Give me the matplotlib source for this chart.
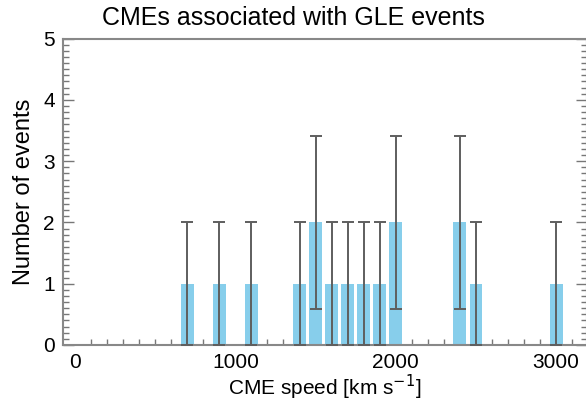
import matplotlib
matplotlib.use("Agg")
import matplotlib.pyplot as plt
from matplotlib.ticker import MultipleLocator

# histogram of CME speeds (100 km/s bins), Poisson error bars
speed = [700, 900, 1100, 1400, 1500, 1600, 1700, 1800, 1900, 2000, 2400, 2500, 3000]
counts = [1, 1, 1, 1, 2, 1, 1, 1, 1, 2, 2, 1, 1]
errors = [1, 1, 1, 1, 1.41, 1, 1, 1, 1, 1.41, 1.41, 1, 1]

plt.rcParams['font.family'] = ['Liberation Sans', 'DejaVu Sans']

fig = plt.figure(figsize=(5.86, 4.0), dpi=100)
ax = fig.add_axes([0.1075, 0.1375, 0.8935, 0.766])

ax.bar(speed, counts, width=80, color='#87ceeb', zorder=2)
ax.errorbar(speed, counts, yerr=errors, fmt='none', ecolor='#5e5e5e',
            elinewidth=1.4, capsize=4, capthick=1.4, zorder=3)

ax.set_xlim(-75, 3190)
ax.set_ylim(0, 5)
ax.xaxis.set_major_locator(MultipleLocator(1000))
ax.xaxis.set_minor_locator(MultipleLocator(100))
ax.yaxis.set_major_locator(MultipleLocator(1))
ax.yaxis.set_minor_locator(MultipleLocator(0.1))
ax.tick_params(which='both', direction='in', top=False, right=True,
               color='#777777', labelsize=15, labelcolor='black', pad=6)
ax.tick_params(axis='x', which='major', length=0)
ax.tick_params(axis='x', which='minor', length=4, width=1)
ax.tick_params(axis='y', which='major', length=8, width=1)
ax.tick_params(axis='y', which='minor', length=4, width=1)
for s in ax.spines.values():
    s.set_color('#888888')
    s.set_linewidth(1.5)

fig.text(0.5, 0.955, "CMEs associated with GLE events", fontsize=18,
         ha='center', va='center')
ax.set_xlabel("CME speed [km s$^{-1}$]", fontsize=15, labelpad=0)
ax.set_ylabel("Number of events", fontsize=17, labelpad=6)

fig.savefig("out.png", dpi=100)
